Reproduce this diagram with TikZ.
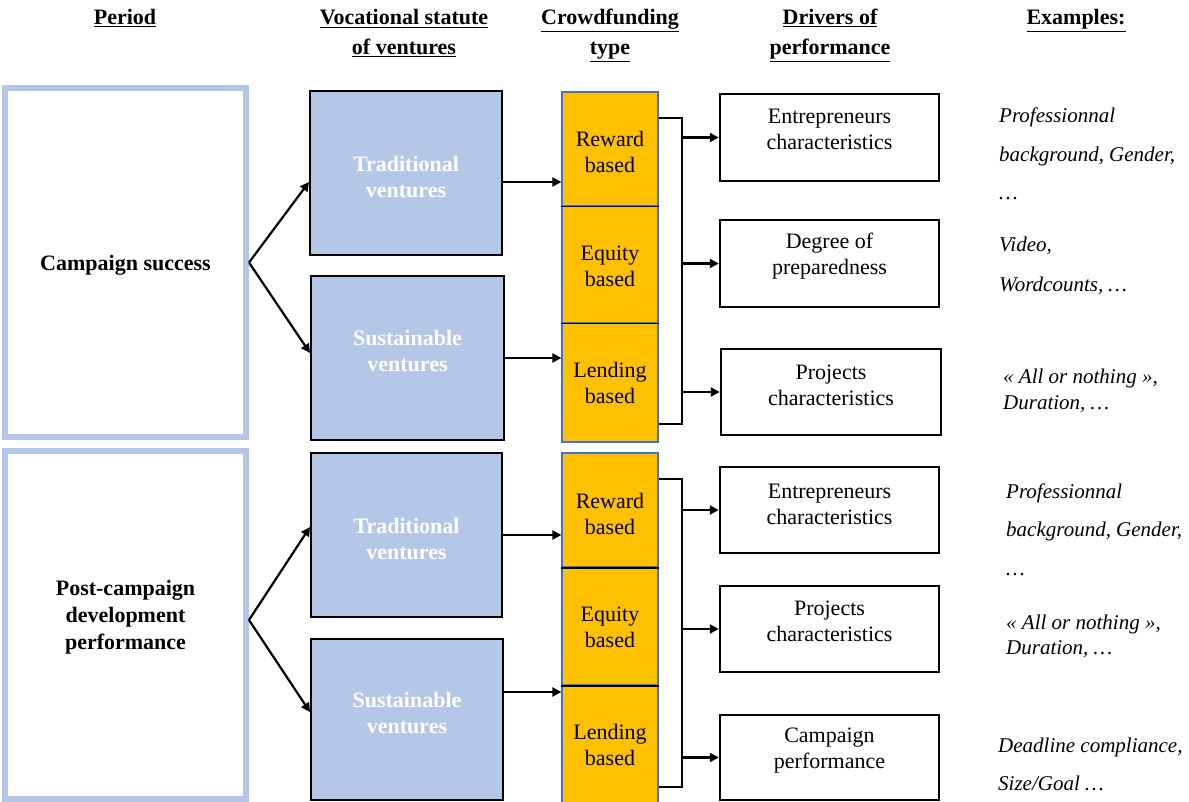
\documentclass[tikz,border=0pt]{standalone}
\usepackage{fontspec}
\setmainfont{Liberation Serif}
\usetikzlibrary{arrows.meta,positioning}
\definecolor{PeriodBlue}{RGB}{180,199,231}
\definecolor{FundGold}{RGB}{255,192,0}
\definecolor{FundEdge}{RGB}{68,114,196}

\begin{document}
\begin{tikzpicture}[x=1pt, y=-1pt,
    head/.style={anchor=base, align=center, inner sep=0pt, font=\fontsize{22}{30}\selectfont\bfseries},
    period/.style={rectangle, draw=PeriodBlue, line width=6pt, minimum width=241pt, align=center, font=\fontsize{22}{27}\selectfont\bfseries},
    venture/.style={rectangle, draw=black, line width=2pt, fill=PeriodBlue, text=white, minimum width=192pt, minimum height=164pt, align=center, font=\fontsize{22}{26}\selectfont\bfseries},
    fund/.style={rectangle, draw=FundEdge, line width=1.2pt, fill=FundGold, minimum width=96pt, align=center, font=\fontsize{22}{27}\selectfont},
    driver/.style={rectangle, draw=black, line width=2.5pt, minimum width=219pt, minimum height=87pt},
    drvtext/.style={align=center, font=\fontsize{22}{26}\selectfont},
    example/.style={anchor=base west, align=left, inner sep=0pt, font=\fontsize{21}{38.5}\selectfont\itshape},
    link/.style={line width=2.2pt},
    arrow/.style={-{Triangle[length=9pt,width=9pt]}, line width=2.2pt}
  ]
    \useasboundingbox (0,0) rectangle (1189,802);

    % column headings
    \node[head] (hp) at (125,25) {\underline{Period}};
    \node[head] (hv) at (404,55) {\underline{Vocational statute}\\\underline{of ventures}};
    \node[head] (hc) at (610,55) {\underline{Crowdfunding}\\\underline{type}};
    \node[head] (hd) at (830,55) {\underline{Drivers of}\\\underline{performance}};
    \node[head] (he) at (1076,25) {\underline{Examples:}};

    % periods
    \node[period, minimum height=349pt] (pb1) at (125.5,262.5) {};
    \node[drvtext, font=\fontsize{22}{27}\selectfont\bfseries] (pt1) at ([yshift=-3pt]pb1.center) {Campaign success};
    \node[period, minimum height=348pt] (pb2) at (125.5,625) {};
    \node[drvtext, font=\fontsize{22}{27}\selectfont\bfseries] (pt2) at ([yshift=8pt]pb2.center) {Post-campaign\\development\\performance};

    % ventures
    \node[venture] (tv1) at (406,173) {};
    \node[venture, minimum width=193pt] (sv1) at (407.5,358) {};
    \node[venture, minimum width=191pt] (tv2) at (406.5,535) {};
    \node[venture, minimum height=161pt] (sv2) at (407,719.5) {};
    \node[venture, draw=none, fill=none, minimum size=0pt] (vt1) at ([yshift=-4pt]tv1.center) {Traditional\\ventures};
    \node[venture, draw=none, fill=none, minimum size=0pt] (vt2) at ([yshift=7pt]sv1.center) {Sustainable\\ventures};
    \node[venture, draw=none, fill=none, minimum size=0pt] (vt3) at ([yshift=-4pt]tv2.center) {Traditional\\ventures};
    \node[venture, draw=none, fill=none, minimum size=0pt] (vt4) at ([yshift=6.5pt]sv2.center) {Sustainable\\ventures};

    \draw[arrow] (pb1.east) -- ([yshift=-9pt]tv1.west);
    \draw[arrow] (pb1.east) -- ([yshift=5pt]sv1.west);
    \draw[arrow] ([yshift=5pt]pb2.east) -- ([yshift=8pt]tv2.west);
    \draw[arrow] ([yshift=5pt]pb2.east) -- ([yshift=7.5pt]sv2.west);

    % crowdfunding types
    \node[fund, minimum height=114pt] (rw1) at (610,149) {};
    \node[fund, minimum height=117pt] (eq1) at (610,264.5) {};
    \node[fund, minimum height=119pt] (ld1) at (610,382.5) {};
    \node[fund, minimum height=114pt] (rw2) at (610,510) {};
    \node[fund, minimum height=118pt] (eq2) at (610,626) {};
    \node[fund, minimum height=121pt] (ld2) at (610,745.5) {};
    \foreach \c/\t/\s in {rw1/Reward/-3, eq1/Equity/-2, ld1/Lending/0, rw2/Reward/-4, eq2/Equity/-1.5, ld2/Lending/1}
      \node[drvtext] (\c t) at ([yshift=\s pt]\c.center) {\t\\based};
    \foreach \c in {rw1,eq1,rw2,eq2}
      \draw[line width=1.8pt] (\c.south west) -- (\c.south east);

    \draw[arrow] ([yshift=-9pt]tv1.east) -- ([yshift=-9pt]tv1.east -| rw1.west);
    \draw[arrow] (sv1.east) -- (sv1.east -| ld1.west);
    \draw[arrow] (tv2.east) -- (tv2.east -| rw2.west);
    \draw[arrow] ([yshift=27.5pt]sv2.east) -- ([yshift=27.5pt]sv2.east -| ld2.west);

    % drivers of performance
    \node[driver] (dr1) at (829.5,137.5) {};
    \node[driver] (dr2) at (829.5,263.5) {};
    \node[driver, minimum width=220pt, minimum height=86pt] (dr3) at (831,392) {};
    \node[driver, minimum height=86pt] (dr4) at (829.5,510) {};
    \node[driver, minimum height=86pt] (dr5) at (829.5,629) {};
    \node[driver, minimum height=85pt] (dr6) at (829.5,757.5) {};
    \node[drvtext] (dt1) at ([yshift=8pt]dr1.center) {Entrepreneurs\\characteristics};
    \node[drvtext] (dt2) at ([yshift=7pt]dr2.center) {Degree of\\preparedness};
    \node[drvtext] (dt3) at ([yshift=7pt]dr3.center) {Projects\\characteristics};
    \node[drvtext] (dt4) at ([yshift=6pt]dr4.center) {Entrepreneurs\\characteristics};
    \node[drvtext] (dt5) at ([yshift=8pt]dr5.center) {Projects\\characteristics};
    \node[drvtext] (dt6) at ([yshift=6.5pt]dr6.center) {Campaign\\performance};

    \coordinate (top1) at (682,118);
    \coordinate (bot1) at (682,424);
    \coordinate (top2) at (682,479);
    \coordinate (bot2) at (682,787);
    \draw[link] (rw1.east |- top1) -- (top1) -- (bot1) -- (ld1.east |- bot1);
    \draw[link] (rw2.east |- top2) -- (top2) -- (bot2) -- (ld2.east |- bot2);
    \foreach \d in {dr1,dr2,dr3}
      \draw[arrow] (top1 |- \d.west) -- (\d.west);
    \foreach \d in {dr4,dr5,dr6}
      \draw[arrow] (top2 |- \d.west) -- (\d.west);

    % examples
    \node[example] (ex1) at (999,200) {Professionnal\\background, Gender,\\…};
    \node[example, font=\fontsize{21}{40}\selectfont\itshape] (ex2) at (999,292) {Video,\\Wordcounts, …};
    \node[example, font=\fontsize{21}{26}\selectfont\itshape] (ex3) at (1003,409) {« All or nothing »,\\Duration, …};
    \node[example] (ex4) at (1006,575) {Professionnal\\background, Gender,\\…};
    \node[example, font=\fontsize{21}{25}\selectfont\itshape] (ex5) at (1006,654) {« All or nothing »,\\Duration, …};
    \node[example, font=\fontsize{21}{38}\selectfont\itshape] (ex6) at (998,790) {Deadline compliance,\\Size/Goal …};
\end{tikzpicture}
\end{document}
